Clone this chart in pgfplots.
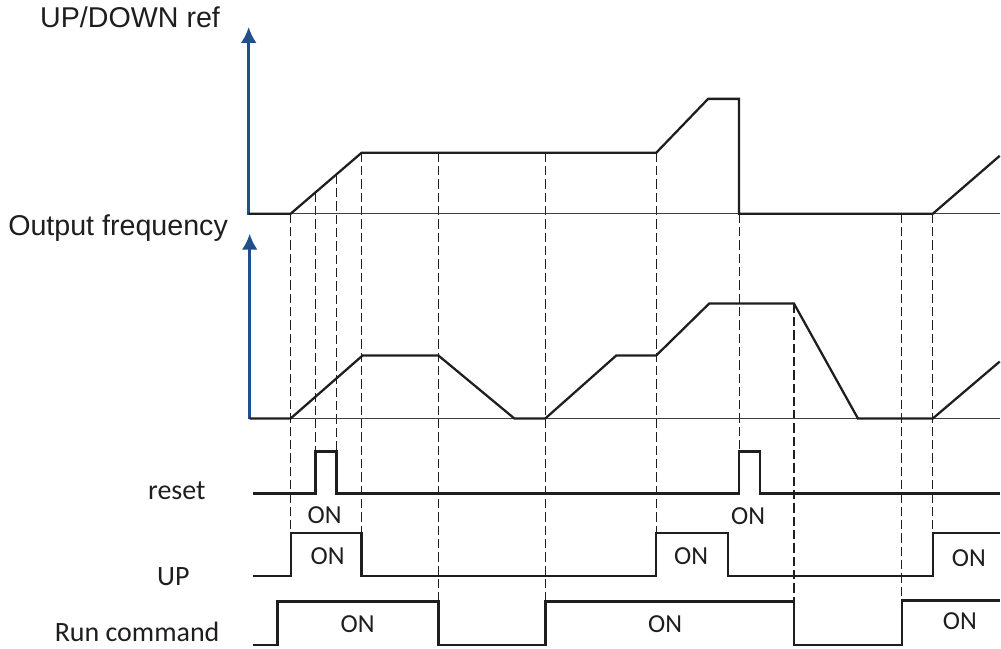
\documentclass[border=0pt]{standalone}
\usepackage{pgfplots}
\pgfplotsset{compat=1.18}
\usetikzlibrary{arrows.meta}
\usepackage{fontspec}
\setmainfont{Liberation Sans}
\newfontfamily\calfont{Carlito}
\definecolor{axblue}{RGB}{31,80,140}
\definecolor{sig}{RGB}{30,30,30}
\tikzset{
  onlab/.style={font=\calfont\fontsize{19.5}{24}\selectfont, text=sig, inner sep=0pt},
  dsh/.style={sig, line width=0.8pt, dash pattern=on 7pt off 3pt}}
\begin{document}
\begin{tikzpicture}
\begin{axis}[hide axis, clip=false, x=0.75pt, y=0.75pt, y dir=reverse,
  xmin=0, xmax=1001, ymin=0, ymax=649,
  every axis plot/.append style={mark=none}]
% frame for bounding box
\addplot[draw=none] coordinates {(0,0) (1001,649)};
% dashed time markers
\addplot[dsh] coordinates {(291,214) (291,534)};
\addplot[dsh] coordinates {(316,193) (316,452)};
\addplot[dsh] coordinates {(337,175) (337,452)};
\addplot[dsh] coordinates {(362,153) (362,534)};
\addplot[dsh] coordinates {(439,153) (439,602)};
\addplot[dsh] coordinates {(546,153) (546,602)};
\addplot[dsh] coordinates {(657,153) (657,534)};
\addplot[dsh] coordinates {(740,214) (740,452)};
\addplot[dsh] coordinates {(795,304) (795,602)};
\addplot[dsh] coordinates {(903,214) (903,601)};
\addplot[dsh] coordinates {(934,214) (934,534)};
% thin baselines
\addplot[black!75, line width=0.7pt] coordinates {(249,214) (1001,214)};
\addplot[black!75, line width=0.7pt] coordinates {(250,419) (1001,419)};
% axes arrows
\addplot[axblue, line width=2.2pt, -{Latex[length=12pt,width=12pt]}] coordinates {(249,215) (249,27)};
\addplot[axblue, line width=2.2pt, -{Latex[length=12pt,width=12pt]}] coordinates {(250,420) (250,234)};
% UP/DOWN ref
\addplot[sig, line width=1.7pt] coordinates {(249,214) (291,214) (362,153) (657,153) (709,99) (740,99) (740,214) (934,214) (1001,156)};
% Output frequency
\addplot[sig, line width=1.7pt] coordinates {(250,419) (291,419) (363,356) (439,356) (515,419) (546,419) (617,356) (657,356) (710,304) (795,304) (859,419) (934,419) (1001,362)};
% reset
\addplot[sig, line width=1.7pt] coordinates {(253,494) (316,494) (316,452) (337,452) (337,494) (740,494) (740,452) (761,452) (761,494) (1001,494)};
% UP
\addplot[sig, line width=1.7pt] coordinates {(253,577) (291,577) (291,534) (362,534) (362,577) (657,577) (657,534) (729,534) (729,577) (934,577) (934,534) (1001,534)};
% Run command
\addplot[sig, line width=1.9pt] coordinates {(253,646) (278,646) (278,602) (439,602) (439,646) (546,646) (546,602) (795,602) (795,646) (903,646) (903,601) (1001,601)};
% labels
\node[anchor=base west, font=\fontsize{21.5}{26}\selectfont, text=sig, inner sep=0pt] at (axis cs:40,28) {UP/DOWN ref};
\node[anchor=base west, font=\fontsize{21.5}{26}\selectfont, text=sig, inner sep=0pt] at (axis cs:8,236) {Output frequency};
\node[anchor=base east, font=\calfont\fontsize{21}{25}\selectfont, text=sig, inner sep=0pt] at (axis cs:206,500) {reset};
\node[anchor=base east, font=\calfont\fontsize{21}{25}\selectfont, text=sig, inner sep=0pt] at (axis cs:190,586) {UP};
\node[anchor=base east, font=\calfont\fontsize{21}{25}\selectfont, text=sig, inner sep=0pt] at (axis cs:220,642) {Run command};
% ON labels
\node[onlab] at (axis cs:325,516) {ON};
\node[onlab] at (axis cs:328,557) {ON};
\node[onlab] at (axis cs:358,625) {ON};
\node[onlab] at (axis cs:749,517) {ON};
\node[onlab] at (axis cs:692,557) {ON};
\node[onlab] at (axis cs:666,625) {ON};
\node[onlab] at (axis cs:970,559) {ON};
\node[onlab] at (axis cs:961,622) {ON};
\end{axis}
\end{tikzpicture}
\end{document}
